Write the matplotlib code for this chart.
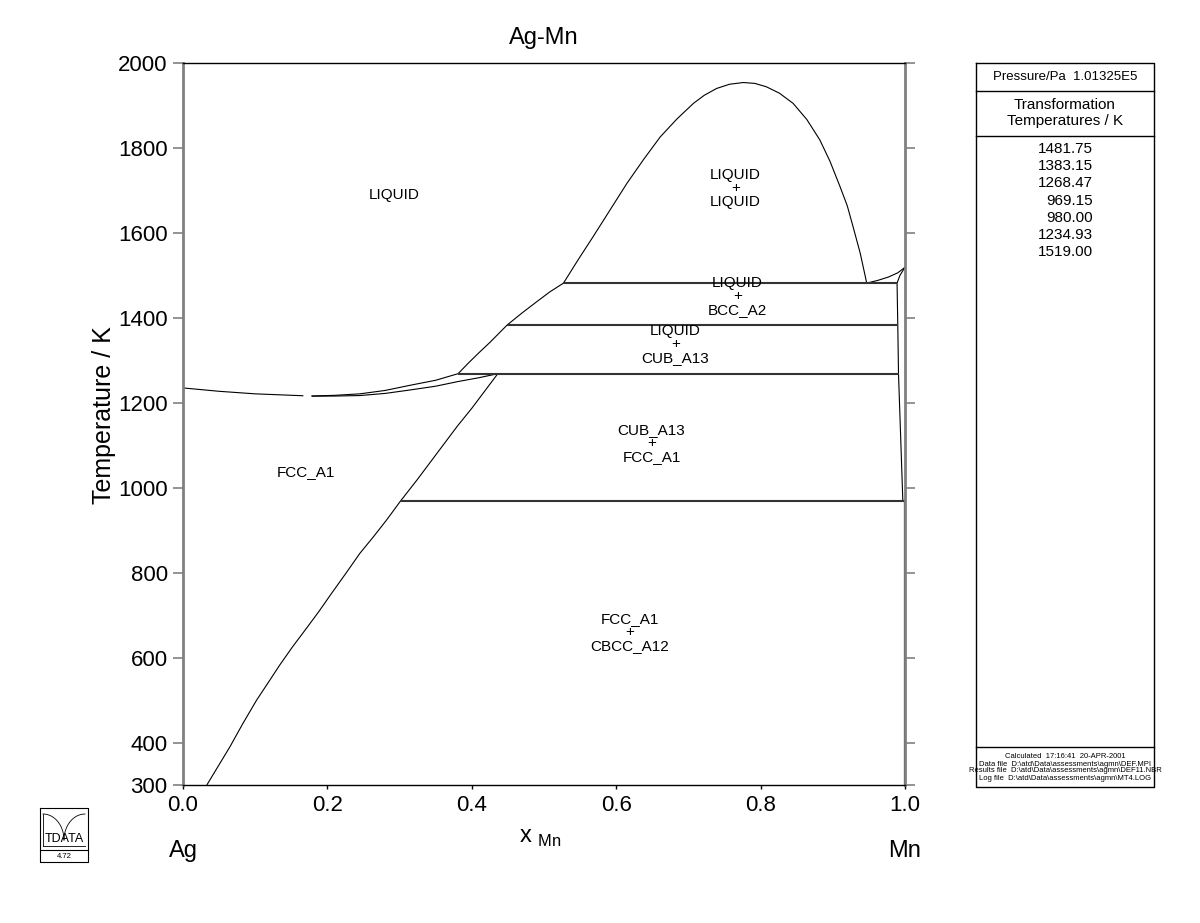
import matplotlib
matplotlib.use('Agg')
import matplotlib.pyplot as plt
import numpy as np

plt.rcParams['font.family'] = ['Liberation Sans', 'DejaVu Sans']

# phase boundaries (x_Mn, T/K)
gap_x = [0.527, 0.547, 0.568, 0.59, 0.615, 0.638, 0.661, 0.684, 0.707, 0.722, 0.739, 0.757,
         0.776, 0.792, 0.808, 0.826, 0.845, 0.864, 0.882, 0.896, 0.91, 0.92, 0.928, 0.938, 0.947]
gap_T = [1481.75, 1536, 1591, 1650, 1717, 1773, 1826, 1868, 1905, 1924, 1940, 1950,
         1954, 1952, 1944, 1929, 1905, 1867, 1819, 1769, 1709, 1664, 1615, 1552, 1481.75]

liq_mn_x = [0.947, 0.962, 0.977, 0.99, 1.0]
liq_mn_T = [1481.75, 1488, 1496, 1506, 1519]
bcc_sol_x = [1.0, 0.993, 0.989]
bcc_sol_T = [1519, 1500, 1481.75]
mn_side_x = [0.989, 0.990, 0.991, 0.997]
mn_side_T = [1481.75, 1383.15, 1268.47, 969.15]
cbcc_x = [0.9995, 0.9995]
cbcc_T = [969.15, 300]

liq_a_x = [0.0, 0.05, 0.1, 0.1667]
liq_a_T = [1234.93, 1227, 1221, 1216.5]
liq_b_x = [0.178, 0.21, 0.245, 0.28, 0.314, 0.35, 0.381]
liq_b_T = [1216, 1217.5, 1221, 1229, 1241, 1253, 1268.47]
liq_up_x = [0.381, 0.395, 0.41, 0.425, 0.449, 0.47, 0.49, 0.508, 0.527]
liq_up_T = [1268.47, 1293, 1318, 1342, 1383.15, 1412, 1438, 1461, 1481.75]
sol_b_x = [0.178, 0.21, 0.245, 0.28, 0.314, 0.35, 0.381, 0.41, 0.436]
sol_b_T = [1215.5, 1215.8, 1217, 1222, 1230, 1239, 1250, 1259, 1268.47]
solvus_x = [0.436, 0.40, 0.38, 0.35, 0.324, 0.3015, 0.282, 0.264, 0.245, 0.225, 0.204, 0.188,
            0.171, 0.152, 0.134, 0.118, 0.102, 0.083, 0.065, 0.049, 0.033]
solvus_T = [1268.47, 1187, 1145, 1077, 1018, 969.15, 924, 885, 845.5, 797, 747, 708,
            669, 626, 582.5, 541, 500, 445, 390, 345, 300]

tie_T = [1481.75, 1383.15, 1268.47, 969.15]
tie_x0 = [0.527, 0.449, 0.381, 0.3015]
tie_x1 = [0.989, 0.990, 0.991, 0.9995]

phase_labels = [('LIQUID', 0.293, 1690),
                ('LIQUID\n+\nLIQUID', 0.765, 1705),
                ('LIQUID\n+\nBCC_A2', 0.768, 1451),
                ('LIQUID\n+\nCUB_A13', 0.682, 1338),
                ('CUB_A13\n+\nFCC_A1', 0.649, 1105),
                ('FCC_A1', 0.17, 1037),
                ('FCC_A1\n+\nCBCC_A12', 0.619, 660)]

trans_temps = ['1481.75', '1383.15', '1268.47', '969.15', '980.00', '1234.93', '1519.00']
info_lines = ['Calculated  17:16:41  20-APR-2001',
              'Data file  D:\\atd\\Data\\assessments\\agmn\\DEF.MPI',
              'Results file  D:\\atd\\Data\\assessments\\agmn\\DEF11.NBR',
              'Log file  D:\\atd\\Data\\assessments\\agmn\\MT4.LOG']

yticks = [300, 400, 600, 800, 1000, 1200, 1400, 1600, 1800, 2000]
xticks = [0.0, 0.2, 0.4, 0.6, 0.8, 1.0]

fig = plt.figure(figsize=(12, 9.23), dpi=100)
ax = fig.add_axes([183/1200, 138/923, 722/1200, 722/923])

lw = 0.8
for xs, ts in [(gap_x, gap_T), (liq_mn_x, liq_mn_T), (bcc_sol_x, bcc_sol_T),
               (mn_side_x, mn_side_T), (liq_a_x, liq_a_T), (liq_b_x, liq_b_T),
               (liq_up_x, liq_up_T), (sol_b_x, sol_b_T), (solvus_x, solvus_T)]:
    ax.plot(xs, ts, color='black', lw=lw, solid_capstyle='butt', solid_joinstyle='round')
ax.plot(cbcc_x, cbcc_T, color='#222222', lw=1.6)
for t, a, b in zip(tie_T, tie_x0, tie_x1):
    ax.plot([a, b], [t, t], color='#333333', lw=1.5, solid_capstyle='butt')

for txt, x, y in phase_labels:
    ax.text(x, y, txt, ha='center', va='center', fontsize=11, linespacing=0.95)

ax.set_xlim(0, 1)
ax.set_ylim(300, 2000)
ax.set_yticks(yticks)
ax.set_xticks(xticks)
ax.set_xticklabels(['0.0', '0.2', '0.4', '0.6', '0.8', '1.0'], fontsize=16)
ax.set_yticklabels([str(v) for v in yticks], fontsize=16)
ax.tick_params(axis='y', which='both', direction='out', length=7, width=1.2,
               color='#808080', left=True, right=True, pad=4)
ax.tick_params(axis='x', direction='out', length=3, width=1, color='black', pad=4)
for s in ['left', 'right']:
    ax.spines[s].set_color('#808080')
    ax.spines[s].set_linewidth(2)
for s in ['top', 'bottom']:
    ax.spines[s].set_color('black')
    ax.spines[s].set_linewidth(1)

ax.set_title('Ag-Mn', fontsize=17, pad=14)
ax.set_ylabel('Temperature / K', fontsize=18)
ax.yaxis.set_label_coords(-0.093, 0.513)
fig.text(540/1200, 1-838/923, r'x $_{\mathregular{Mn}}$', ha='center', va='center', fontsize=17)
ax.text(0.0, -0.092, 'Ag', transform=ax.transAxes, ha='center', va='center', fontsize=17)
ax.text(1.0, -0.092, 'Mn', transform=ax.transAxes, ha='center', va='center', fontsize=17)

# side panel, in pixel coords
px = fig.add_axes([0, 0, 1, 1], facecolor='none')
px.set_xlim(0, 1200)
px.set_ylim(923, 0)
px.axis('off')
L, R, T, B = 976, 1154, 63, 787
px.plot([L, R, R, L, L], [T, T, B, B, T], color='black', lw=1)
for yy in [91, 136, 747]:
    px.plot([L, R], [yy, yy], color='black', lw=1)
mid = (L + R) / 2
px.text(mid, 77, 'Pressure/Pa  1.01325E5', ha='center', va='center', fontsize=9.5)
px.text(mid, 113, 'Transformation\nTemperatures / K', ha='center', va='center',
        fontsize=11, linespacing=1.1)
for i, t in enumerate(trans_temps):
    px.text(1093, 149 + i * 17.2, t, ha='right', va='center', fontsize=11)
for i, t in enumerate(info_lines):
    px.text(mid, 757 + i * 7, t, ha='center', va='center', fontsize=5.5)

# logo
lx0, lx1, ly0, ly1 = 40, 88, 808, 862
px.plot([lx0, lx1, lx1, lx0, lx0], [ly0, ly0, ly1, ly1, ly0], color='black', lw=0.8)
px.plot([lx0, lx1], [850, 850], color='black', lw=0.8)
px.plot([lx0 + 3, lx1 - 3], [846, 846], color='black', lw=0.6)
th = np.linspace(0, np.pi / 2, 20)
px.plot(lx0 + 3 + 21 * np.sin(th), ly0 + 6 + 26 * (1 - np.cos(th)), color='black', lw=0.6)
px.plot(lx1 - 3 - 21 * np.sin(th), ly0 + 6 + 26 * (1 - np.cos(th)), color='black', lw=0.6)
px.plot([lx0 + 3, lx0 + 3], [ly0 + 6, 846], color='black', lw=0.6)
px.text((lx0 + lx1) / 2, 839, 'TDATA', ha='center', va='center', fontsize=9)
px.text((lx0 + lx1) / 2, 856, '4.72', ha='center', va='center', fontsize=5.5)

fig.savefig('out.png', dpi=100)
